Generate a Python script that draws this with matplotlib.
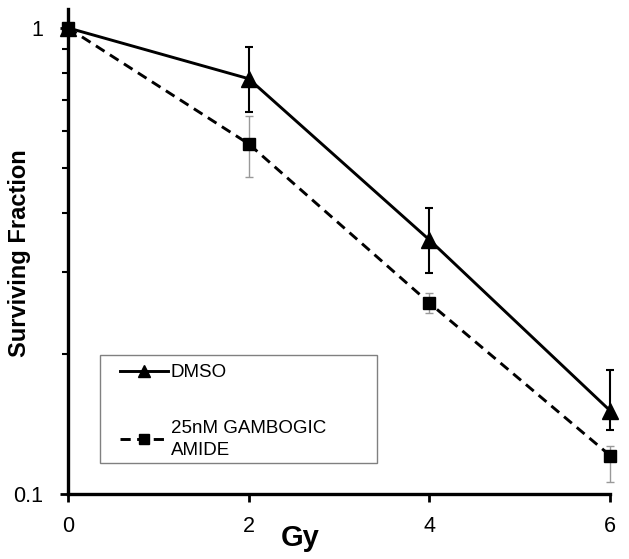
import numpy as np
import matplotlib
matplotlib.use('Agg')
from matplotlib import pyplot as plt
from matplotlib.patches import Rectangle
from matplotlib.ticker import FixedLocator, FixedFormatter, LogLocator, NullFormatter

plt.rcParams['font.family'] = ['Liberation Sans', 'DejaVu Sans']

dose = [0, 2, 4, 6]

dmso = [1.0, 0.778, 0.351, 0.151]
dmso_lo = [0.0, 0.118, 0.053, 0.014]
dmso_hi = [0.0, 0.132, 0.060, 0.034]

gam = [1.0, 0.564, 0.257, 0.121]
gam_lo = [0.0, 0.085, 0.012, 0.015]
gam_hi = [0.0, 0.083, 0.013, 0.006]

labels = ['DMSO', '25nM GAMBOGIC\nAMIDE']

fig = plt.figure(figsize=(6.29, 5.59), dpi=100)
ax = fig.add_axes([0.108, 0.116, 0.862, 0.868])

ax.errorbar(dose, gam, yerr=[gam_lo, gam_hi], fmt='none', ecolor='#999999',
            elinewidth=1.0, capsize=3, capthick=1.0, clip_on=False, zorder=2)
ax.errorbar(dose, dmso, yerr=[dmso_lo, dmso_hi], fmt='none', ecolor='black',
            elinewidth=1.5, capsize=3, capthick=1.5, clip_on=False, zorder=2)

ax.plot(dose, dmso, color='black', lw=2.1, marker='^', ms=11,
        label=labels[0], clip_on=False, zorder=3)
ax.plot(dose, gam, color='black', lw=2.1, ls=(0, (3.5, 2.2)), marker='s', ms=9,
        label=labels[1], clip_on=False, zorder=3)

ax.set_yscale('log')
ax.set_xlim(0, 6)
ax.set_ylim(0.1, 1.098)

ax.xaxis.set_major_locator(FixedLocator([0, 2, 4, 6]))
ax.yaxis.set_major_locator(FixedLocator([0.1, 1]))
ax.yaxis.set_major_formatter(FixedFormatter(['0.1', '1']))
ax.yaxis.set_minor_locator(LogLocator(base=10, subs=np.arange(2, 10)))
ax.yaxis.set_minor_formatter(NullFormatter())

for s in ['top', 'right']:
    ax.spines[s].set_visible(False)
for s in ['left', 'bottom']:
    ax.spines[s].set_linewidth(2.4)

ax.tick_params(axis='both', which='major', labelsize=15.5, width=2, length=6, direction='out')
ax.tick_params(axis='y', which='major', pad=12)
ax.tick_params(axis='x', which='major', pad=10)
ax.tick_params(axis='y', which='minor', width=1.5, length=4, direction='out')

ax.set_xlabel('Gy', fontsize=21, fontweight='bold')
ax.xaxis.set_label_coords(0.428, -0.062)
ax.set_ylabel('Surviving Fraction', fontsize=17, fontweight='bold')
ax.yaxis.set_label_coords(-0.068, 0.497)

# legend frame drawn separately so the entries can sit where they do in the original
ax.add_patch(Rectangle((0.059, 0.064), 0.511, 0.223, transform=ax.transAxes,
                       facecolor='white', edgecolor='#808080', lw=1.0, zorder=4))
leg = ax.legend(loc='upper left', bbox_to_anchor=(0.096, 0.268),
                borderaxespad=0, borderpad=0, fontsize=13.5, frameon=False,
                handlelength=2.56, labelspacing=2.05, handletextpad=0.16,
                markerscale=0.75)
leg.set_zorder(5)
for t in leg.get_texts():
    t.set_linespacing(1.4)

plt.savefig('out.png', dpi=100)
